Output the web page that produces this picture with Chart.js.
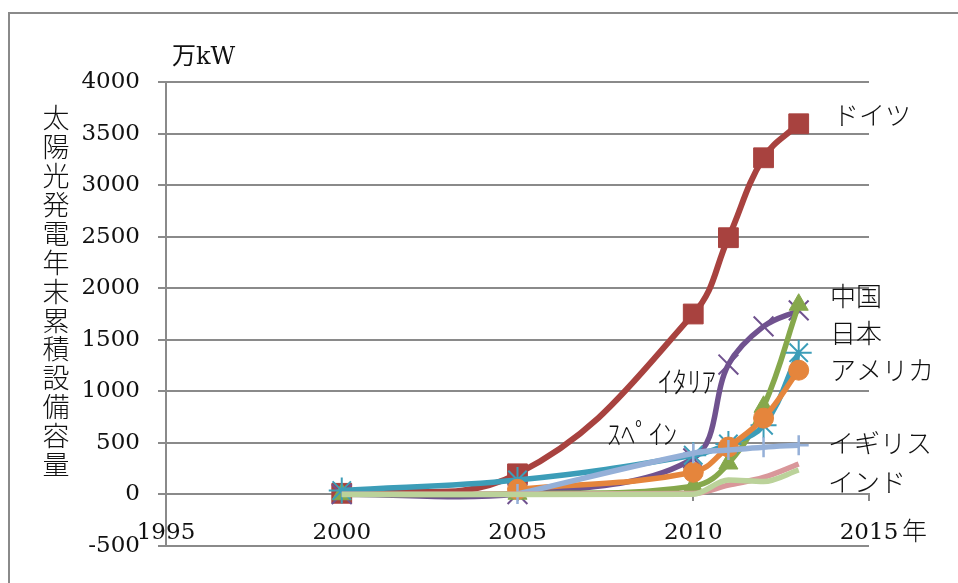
<!DOCTYPE html>
<html><head><meta charset="utf-8">
<script src="https://cdn.jsdelivr.net/npm/chart.js@4"></script>
<style>html,body{margin:0;padding:0;background:#fff;} #wrap{width:958px;height:583px;}</style>
</head><body><div id="wrap"><canvas id="c" width="958" height="583"></canvas></div>
<script>
// ---- data ----
const years = [2000, 2005, 2010, 2011, 2012, 2013];
const germany = [11, 200, 1750, 2490, 3265, 3595];
const italy   = [2, 4, 350, 1260, 1630, 1785];
const china   = [2, 7, 80, 300, 850, 1840];
const japan   = [38, 140, 380, 490, 670, 1375];
const usa     = [null, 50, 215, 460, 740, 1205];
const spain   = [null, 5, 400, 430, 458, 478];
const uk      = [1, 1, 8, 90, 165, 295];
const india   = [0, 0, 3, 140, 125, 237];
const xTicks = [1995, 2000, 2005, 2010, 2015];
const yTicks = [-500, 0, 500, 1000, 1500, 2000, 2500, 3000, 3500, 4000];
const yTitle = '太陽光発電年末累積設備容量';
const unitLabel = '万kW';
const yearSuffix = '年';
const seriesLabels = ['ドイツ', '中国', '日本', 'アメリカ', 'イギリス', 'インド', 'ｲﾀﾘｱ', 'ｽﾍﾟｲﾝ'];

const pts = vals => years.map((x, i) => ({x, y: vals[i]})).filter(p => p.y !== null);
const SERIF = '"DejaVu Serif", "Noto Sans CJK JP", serif';
const CJK = '"Noto Sans CJK JP", sans-serif';

function ds(label, vals, color, style, radius, order, lw, bw, mono, tension) {
  const stroked = ['crossRot', 'star', 'cross'].includes(style);
  const d = {
    label, data: pts(vals), borderColor: color, backgroundColor: color,
    borderWidth: lw, tension: tension || 0.4, showLine: true,
    pointStyle: style || 'circle', pointRadius: radius, pointHoverRadius: radius,
    pointBorderWidth: stroked ? bw : 1, pointBorderColor: color, pointBackgroundColor: color,
    order
  };
  if (mono) d.cubicInterpolationMode = 'monotone';
  return d;
}

const datasets = [
  ds('ドイツ', germany, '#A8423F', 'rect', 14, 8, 6, 1),
  ds('イタリア', italy, '#70528F', 'crossRot', 14, 7, 5.5, 2, false, 0.35),
  ds('中国', china, '#86A84C', 'triangle', 11, 6, 5.5, 1),
  ds('日本', japan, '#3C9DB8', 'star', 13, 5, 5.5, 2),
  ds('アメリカ', usa, '#E5853C', 'circle', 10, 4, 5.5, 1),
  ds('スペイン', spain, '#95B0D8', 'cross', 10, 3, 5.5, 2.5),
  ds('イギリス', uk, '#D9979A', false, 0, 2, 5.5, 1, true),
  ds('インド', india, '#BBD29A', false, 0, 1, 5.5, 1, true)
];

const GRID = '#8a8a8a';

const textPlugin = {
  id: 'texts',
  beforeDraw(chart) {
    const ctx = chart.ctx;
    ctx.save();
    ctx.fillStyle = '#fff';
    ctx.fillRect(0, 0, chart.width, chart.height);
    ctx.strokeStyle = '#8a8a8a';
    ctx.lineWidth = 2;
    ctx.strokeRect(9, 13, 2000, 2000);
    ctx.restore();
  },
  afterDraw(chart) {
    const ctx = chart.ctx;
    ctx.save();
    ctx.fillStyle = '#111';
    ctx.textBaseline = 'middle';
    ctx.textAlign = 'left';
    // unit
    ctx.font = '24px ' + SERIF;
    ctx.fillText(unitLabel, 172, 58);
    // year suffix
    ctx.font = '300 25px ' + CJK;
    ctx.fillText(yearSuffix, 902, 530);
    // y title vertical
    ctx.textAlign = 'center';
    ctx.font = '300 27px ' + CJK;
    [...yTitle].forEach((ch, i) => ctx.fillText(ch, 56, 118 + i * 28.9));
    // series labels
    ctx.textAlign = 'left';
    ctx.font = '300 26px ' + CJK;
    const pos = [[833, 115], [830, 296], [830, 333], [830, 370], [828, 443], [828, 482]];
    pos.forEach((p, i) => ctx.fillText(seriesLabels[i], p[0], p[1]));
    ctx.font = '300 29px ' + CJK;
    ctx.fillText(seriesLabels[6], 658, 382);
    ctx.font = '300 28px ' + CJK;
    ctx.fillText(seriesLabels[7], 607, 434);
    ctx.restore();
  }
};

new Chart(document.getElementById('c'), {
  type: 'line',
  data: { datasets },
  plugins: [textPlugin],
  options: {
    responsive: false, animation: false,
    layout: { padding: { left: 0, top: 82, right: 89, bottom: 37 } },
    plugins: { legend: { display: false }, tooltip: { enabled: false } },
    scales: {
      x: {
        type: 'linear', min: xTicks[0], max: xTicks[xTicks.length - 1],
        position: { y: 0 },
        afterBuildTicks(s) { s.ticks = xTicks.map(v => ({ value: v })); },
        ticks: { padding: 19, color: '#111', font: { family: SERIF, size: 23 }, maxRotation: 0, autoSkip: false, callback: v => String(v) },
        grid: { drawOnChartArea: false, drawTicks: true, tickLength: 6, color: GRID, lineWidth: 2 },
        border: { display: true, color: GRID, width: 2 }
      },
      y: {
        min: yTicks[0], max: yTicks[yTicks.length - 1],
        afterFit(s) { s.width = 166; },
        afterBuildTicks(s) { s.ticks = yTicks.map(v => ({ value: v })); },
        ticks: { padding: 18, color: '#111', font: { family: SERIF, size: 23 }, callback: v => String(v) },
        grid: { color: GRID, lineWidth: 2, tickLength: 8, drawTicks: true },
        border: { display: true, color: GRID, width: 2 }
      }
    }
  }
});
</script>
</body></html>
